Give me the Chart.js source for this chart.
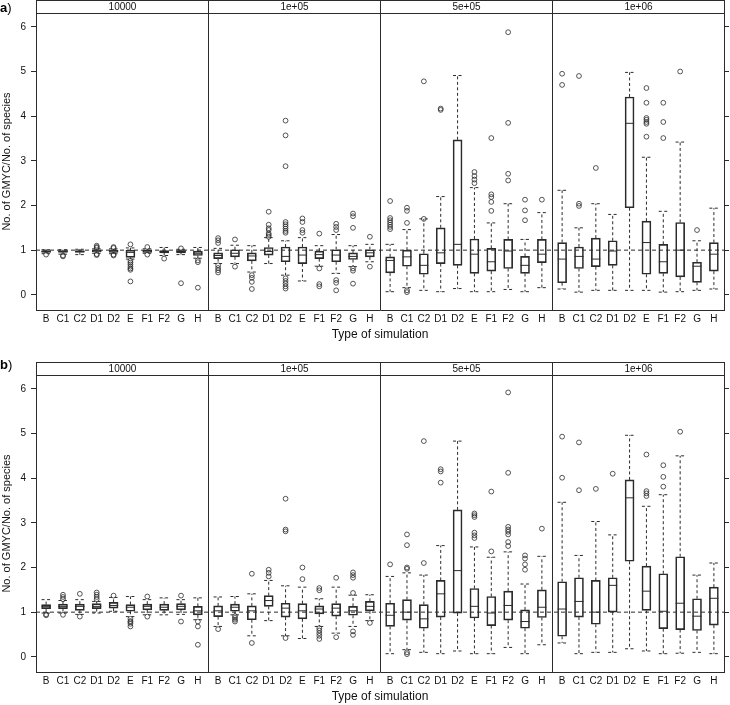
<!DOCTYPE html>
<html>
<head>
<meta charset="utf-8">
<script src="https://cdn.jsdelivr.net/npm/chart.js@4.4.1/dist/chart.umd.min.js"></script>
<style>
  html, body { margin: 0; padding: 0; background: #fff; }
  #wrap { position: relative; width: 730px; height: 705px; }
  #ca { position: absolute; left: 0; top: 0; }
  #cb { position: absolute; left: 0; top: 350px; }
</style>
</head>
<body>
<div id="wrap">
  <canvas id="ca" width="730" height="350"></canvas>
  <canvas id="cb" width="730" height="355"></canvas>
</div>
<script>
// ---------------- DATA ----------------
const categories = ['B','C1','C2','D1','D2','E','F1','F2','G','H'];
const facets = ['10000','1e+05','5e+05','1e+06'];
const yTicks = [0,1,2,3,4,5,6];
const refValue = 1;

// Panel a) : per facet, 10 boxes (B..H)
const aLow = [
  0.92,0.91,0.90,0.93,0.92,0.80,0.93,0.88,0.90,0.82,
  0.70,0.70,0.51,0.70,0.44,0.31,0.64,0.48,0.63,0.74,
  0.07,0.16,0.10,0.07,0.14,0.07,0.07,0.12,0.07,0.16,
  0.13,0.06,0.10,0.10,0.10,0.10,0.06,0.07,0.10,0.13
];
const aQ1 = [
  0.95,0.95,0.95,0.96,0.95,0.84,0.95,0.94,0.94,0.88,
  0.81,0.85,0.76,0.89,0.74,0.70,0.81,0.74,0.79,0.85,
  0.49,0.64,0.46,0.70,0.66,0.48,0.53,0.59,0.48,0.72,
  0.27,0.59,0.63,0.66,1.95,0.46,0.48,0.40,0.28,0.53
];
const aMed = [
  0.97,0.97,0.97,0.98,0.98,0.95,0.98,0.97,0.97,0.93,
  0.88,0.93,0.87,0.97,0.86,0.89,0.90,0.89,0.86,0.94,
  0.77,0.85,0.66,0.94,1.13,0.91,0.74,0.98,0.66,0.91,
  0.80,0.86,0.80,0.98,3.84,1.17,0.74,1.00,0.64,0.91
];
const aQ3 = [
  0.99,0.99,0.99,1.00,1.00,1.00,1.00,0.99,0.99,0.98,
  0.94,1.01,0.94,1.06,1.07,1.07,0.98,1.01,0.94,1.01,
  0.85,1.00,0.92,1.50,3.47,1.25,1.04,1.24,0.86,1.24,
  1.17,1.07,1.27,1.21,4.43,1.65,1.13,1.62,0.73,1.17
];
const aHigh = [
  1.01,1.01,1.02,1.03,1.03,1.05,1.03,1.06,1.02,1.06,
  1.04,1.11,1.10,1.28,1.21,1.28,1.10,1.35,1.10,1.13,
  1.13,1.46,1.70,2.20,4.91,2.40,1.61,2.04,1.24,1.84,
  2.34,1.50,2.04,1.80,4.98,3.08,1.87,3.42,1.21,1.94
];
const aOut = [
  [0.90],[0.88,0.86],[],[1.10,1.07,1.05,0.91,0.89],[1.07,1.05,0.90,0.88],
  [1.13,0.76,0.72,0.68,0.63,0.59,0.56,0.30],[1.07,0.90],[0.81],[1.04,0.26],[0.77,0.73,0.16],
  [1.27,1.22,1.16,0.66,0.60,0.55,0.50],[1.24,0.63],[0.44,0.38,0.29,0.13],
  [1.30,1.34,1.37,1.45,1.49,1.57,1.86],
  [1.39,1.43,1.48,1.53,1.58,1.63,2.88,3.57,3.90,0.37,0.31,0.25,0.19,0.14],
  [1.39,1.45,1.63,1.71],[1.37,0.59,0.24,0.19],[1.45,1.52,1.59,0.33,0.27,0.10],
  [1.50,1.76,1.82,0.59,0.54,0.25],[1.30,0.63],
  [1.47,1.52,1.57,1.62,1.67,1.72,2.10],[1.61,1.88,1.95,0.10,0.06],[1.70,4.78],[4.14,4.17],[],
  [2.50,2.58,2.66,2.75],[1.88,2.08,2.19,2.25,3.51],[2.56,2.71,3.85,5.88],[1.67,1.89,2.13],[2.13],
  [4.70,4.95],[1.99,2.04,4.90],[2.84],[],[],
  [3.54,3.83,3.87,3.92,3.96,4.30,4.63],[3.51,3.87,4.30],[5.00],[1.45],[]
];

// Panel b)
const bLow = [
  0.98,0.98,0.95,0.98,1.02,0.90,0.94,0.94,0.95,0.83,
  0.68,0.94,0.47,0.81,0.47,0.41,0.68,0.53,0.68,0.81,
  0.07,0.16,0.10,0.07,0.13,0.07,0.07,0.21,0.07,0.27,
  0.31,0.07,0.10,0.10,0.18,0.13,0.07,0.08,0.10,0.07
];
const bQ1 = [
  1.08,1.08,1.04,1.08,1.09,1.02,1.05,1.04,1.05,0.94,
  0.90,1.02,0.83,1.13,0.89,0.85,0.96,0.91,0.93,1.03,
  0.68,0.82,0.64,0.89,0.98,0.87,0.70,0.82,0.64,0.88,
  0.46,0.89,0.73,1.00,2.14,1.04,0.63,0.61,0.59,0.71
];
const bMed = [
  1.13,1.13,1.13,1.13,1.15,1.11,1.13,1.11,1.13,1.03,
  1.03,1.11,1.03,1.26,1.09,1.03,1.07,1.09,1.03,1.13,
  0.93,1.00,0.85,1.41,1.93,1.13,0.98,1.15,0.79,1.11,
  1.07,1.24,1.00,1.60,3.56,1.47,1.02,1.20,0.91,1.31
];
const bQ3 = [
  1.17,1.18,1.18,1.19,1.22,1.17,1.18,1.18,1.19,1.13,
  1.14,1.18,1.14,1.37,1.20,1.19,1.14,1.19,1.13,1.24,
  1.20,1.28,1.17,1.71,3.29,1.53,1.35,1.47,1.05,1.50,
  1.68,1.77,1.71,1.77,3.96,2.03,1.86,2.24,1.30,1.56
];
const bHigh = [
  1.28,1.26,1.28,1.24,1.33,1.35,1.28,1.32,1.28,1.32,
  1.34,1.35,1.41,1.71,1.59,1.56,1.30,1.56,1.38,1.39,
  1.80,1.88,1.83,2.49,4.83,2.46,2.23,2.35,1.63,2.25,
  3.46,2.27,3.03,2.73,4.96,3.37,3.63,4.50,1.83,2.10
];
const bOut = [
  [0.95,0.93],[1.29,1.34,1.39,0.94],[1.41,0.90],[1.29,1.34,1.39,1.44],[1.37],
  [0.85,0.80,0.78,0.74,0.68],[1.35,0.90],[],[1.37,0.79],[0.79,0.68,0.27],
  [0.62],[0.91,0.87,0.83,0.79],[1.86,0.31],[1.80,1.88,1.95],[2.81,2.85,3.54,0.42],
  [1.74,2.00],[1.49,1.54,0.64,0.59,0.53,0.47,0.40],[1.77,0.44],[1.43,1.77,1.83,1.89,0.57,0.49],[0.76],
  [2.07],[1.97,2.00,2.50,2.74,0.10,0.06],[2.10,4.83],[3.90,4.15,4.20],[],
  [2.66,2.72,2.78,3.13,3.17,3.21],[2.36,3.70],[2.48,2.57,2.74,2.80,2.85,2.91,4.12,5.92],[1.95,2.07,2.20,2.27],[2.87],
  [4.01,4.93],[3.73,4.80],[3.76],[4.10],[],
  [3.60,3.66,3.71,4.53],[3.81,4.03,4.29],[5.04],[],[]
];

// ---------------- LAYOUT CONSTANTS ----------------
const SPAN = 10.2;       // facet width in x units (0.4 .. 10.6)
const HALF = 0.27;       // half box width in x units for medians / caps
const XMIN = 0.4, XMAX = 3 * SPAN + 10.6;
const YMIN = -0.34, YMAX = 6.31;
const INK = '#2b2b2b';
const FONT = '"Liberation Sans", Arial, Helvetica, sans-serif';

function pos(k) { const f = Math.floor(k / 10), i = k % 10; return f * SPAN + i + 1; }

function buildDatasets(lo, q1, med, q3, hi, out) {
  const boxes = [], medians = [], whiskers = [], outliers = [];
  for (let k = 0; k < lo.length; k++) {
    const x = pos(k);
    boxes.push({ x: x, y: [q1[k], q3[k]] });
    medians.push({ x: x - HALF, y: med[k] }, { x: x + HALF, y: med[k] }, { x: x, y: null });
    whiskers.push(
      { x: x, y: q3[k] }, { x: x, y: hi[k] }, { x: x, y: null },
      { x: x, y: q1[k] }, { x: x, y: lo[k] }, { x: x, y: null },
      { x: x - HALF, y: hi[k] }, { x: x + HALF, y: hi[k] }, { x: x, y: null },
      { x: x - HALF, y: lo[k] }, { x: x + HALF, y: lo[k] }, { x: x, y: null }
    );
    out[k].forEach(v => outliers.push({ x: x, y: v }));
  }
  return [
    { type: 'scatter', data: outliers, pointStyle: 'circle', pointRadius: 2.4,
      pointBorderWidth: 0.8, borderColor: INK, backgroundColor: 'rgba(0,0,0,0)' },
    { type: 'line', data: medians, borderColor: INK, borderWidth: 1, pointRadius: 0,
      spanGaps: false, fill: false, tension: 0 },
    { type: 'bar', data: boxes, borderColor: INK, borderWidth: 1, backgroundColor: 'rgba(0,0,0,0)',
      borderSkipped: false, barThickness: 9, grouped: false },
    { type: 'line', data: whiskers, borderColor: INK, borderWidth: 1, borderDash: [3, 2.5],
      pointRadius: 0, spanGaps: false, fill: false, tension: 0 },
    { type: 'line', data: [{ x: XMIN, y: refValue }, { x: XMAX, y: refValue }], borderColor: INK,
      borderWidth: 1, borderDash: [4, 3], pointRadius: 0, fill: false }
  ];
}

const stripPlugin = {
  id: 'strips',
  afterDraw(chart, args, o) {
    const { ctx, chartArea } = chart;
    const x = chart.scales.x;
    const h = 13;
    ctx.save();
    ctx.strokeStyle = INK;
    ctx.lineWidth = 1;
    ctx.fillStyle = '#111';
    ctx.font = '10px ' + FONT;
    ctx.textAlign = 'center';
    ctx.textBaseline = 'middle';
    const top = Math.round(chartArea.top - h) + 0.5;
    facets.forEach((lab, f) => {
      const x0 = Math.round(x.getPixelForValue(f * SPAN + 0.4)) + 0.5;
      const x1 = Math.round(x.getPixelForValue(f * SPAN + 10.6)) + 0.5;
      ctx.strokeRect(x0, top, x1 - x0, Math.round(chartArea.top) + 0.5 - top);
      ctx.fillText(lab, (x0 + x1) / 2, top + h / 2 + 0.5);
    });
    // panel label
    ctx.textAlign = 'left';
    ctx.textBaseline = 'alphabetic';
    ctx.font = 'bold 13px ' + FONT;
    ctx.fillStyle = '#000';
    ctx.fillText(o.label, 0, o.labelY);
    const w = ctx.measureText(o.label).width;
    ctx.font = '13px ' + FONT;
    ctx.fillText(')', w, o.labelY);
    ctx.restore();
  }
};

function makeChart(id, data, cfg) {
  const yAxisBase = {
    type: 'linear', min: YMIN, max: YMAX,
    afterBuildTicks: a => { a.ticks = yTicks.map(v => ({ value: v })); },
    grid: { display: true, drawOnChartArea: false, drawTicks: true, tickLength: 5, color: INK },
    border: { display: true, color: INK, width: 1 }
  };
  return new Chart(document.getElementById(id), {
    type: 'scatter',
    data: { datasets: buildDatasets(...data) },
    plugins: [stripPlugin],
    options: {
      responsive: false,
      animation: false,
      devicePixelRatio: 1,
      layout: { padding: { top: cfg.padTop, left: 0, right: 0, bottom: 0 } },
      plugins: {
        legend: { display: false }, tooltip: { enabled: false },
        strips: { label: cfg.label, labelY: cfg.labelY }
      },
      scales: {
        x: {
          type: 'linear', position: 'bottom', min: XMIN, max: XMAX, offset: false,
          afterBuildTicks: a => {
            const t = [];
            for (let k = 0; k < 40; k++) t.push({ value: pos(k) });
            a.ticks = t;
          },
          afterFit: s => { s.height = cfg.xHeight; },
          ticks: {
            autoSkip: false, maxRotation: 0, padding: 3, color: '#111',
            font: { family: FONT, size: 10 },
            callback: (v, i) => categories[i % categories.length]
          },
          grid: { display: false, drawTicks: false, tickLength: 0 },
          border: { display: true, color: INK, width: 1 },
          title: { display: true, text: 'Type of simulation', color: '#111',
                   font: { family: FONT, size: 12 }, padding: { top: 0, bottom: cfg.titlePad } }
        },
        xb: {
          type: 'linear', position: 'top', min: XMIN, max: XMAX, offset: false,
          afterBuildTicks: a => { a.ticks = [1, 2, 3].map(f => ({ value: f * SPAN + 0.4 })); },
          afterFit: s => { s.height = 0; },
          ticks: { display: false },
          grid: { display: true, drawOnChartArea: true, drawTicks: false, color: INK },
          border: { display: true, color: INK, width: 1 }
        },
        y: Object.assign({}, yAxisBase, {
          position: 'left',
          afterFit: s => { s.width = 36; },
          ticks: { padding: 5, color: '#111', font: { family: FONT, size: 10 },
                   callback: v => String(v) },
          title: { display: true, text: 'No. of GMYC/No. of species', color: '#111',
                   font: { family: FONT, size: 11 }, padding: { top: 0, bottom: 0 } }
        }),
        y2: Object.assign({}, yAxisBase, {
          position: 'right',
          afterFit: s => { s.width = 6; },
          ticks: { padding: 0, callback: () => '' }
        })
      }
    }
  });
}

makeChart('ca', [aLow, aQ1, aMed, aQ3, aHigh, aOut],
  { padTop: 13, xHeight: 40, titlePad: 8, label: 'a', labelY: 12 });
makeChart('cb', [bLow, bQ1, bMed, bQ3, bHigh, bOut],
  { padTop: 25, xHeight: 33, titlePad: 1, label: 'b', labelY: 19 });
</script>
</body>
</html>
